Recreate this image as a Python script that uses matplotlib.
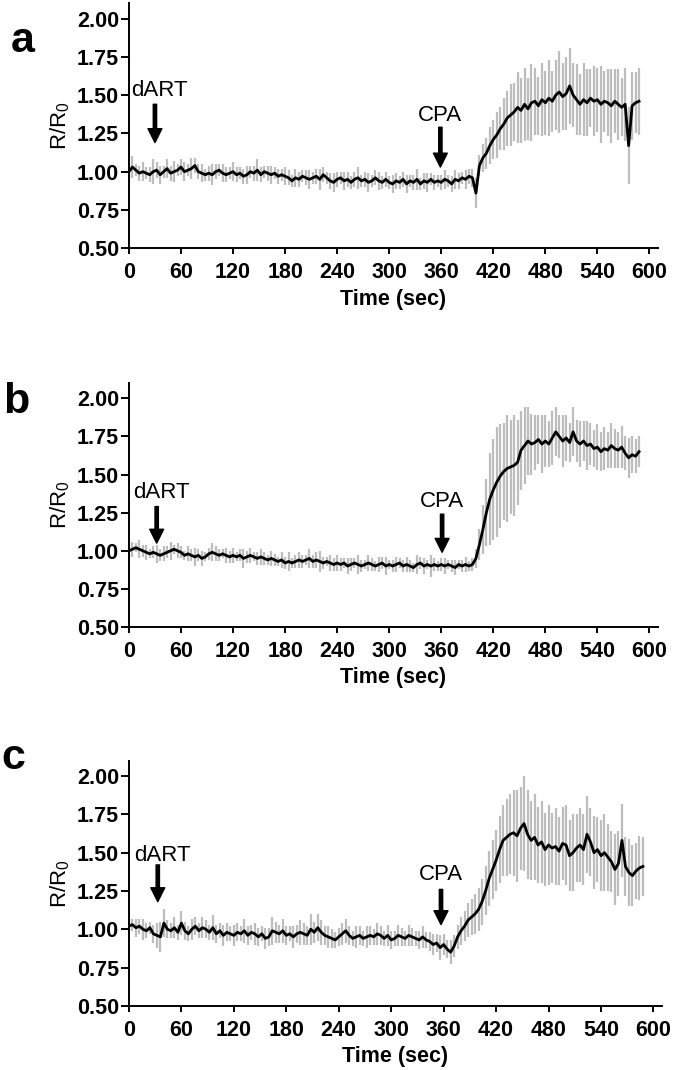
import numpy as np
import matplotlib
matplotlib.use("Agg")
from matplotlib import pyplot as plt

plt.rcParams['font.family'] = ['Liberation Sans', 'DejaVu Sans']
plt.rcParams['mathtext.default'] = 'regular'

# time points (sec), one every 4 s
t = np.arange(0, 589, 4)

# panel a: mean R/R0 and error
a_mean = [1.00, 1.03, 1.01, 0.99, 1.00, 0.99, 0.98, 1.00, 1.01, 0.98,
          1.00, 1.02, 0.99, 1.00, 1.01, 1.03, 1.00, 1.01, 1.02, 1.04,
          1.00, 0.99, 0.98, 0.99, 0.98, 1.00, 1.01, 0.99, 0.98, 0.99,
          1.00, 0.98, 0.99, 0.97, 0.98, 1.00, 0.99, 1.01, 0.98, 1.00,
          0.99, 0.98, 0.99, 0.97, 0.98, 0.97, 0.96, 0.94, 0.96, 0.95,
          0.97, 0.96, 0.95, 0.96, 0.97, 0.95, 0.98, 0.96, 0.94, 0.93,
          0.95, 0.96, 0.94, 0.95, 0.93, 0.95, 0.96, 0.94, 0.95, 0.93,
          0.94, 0.96, 0.94, 0.93, 0.95, 0.93, 0.92, 0.94, 0.93, 0.95,
          0.92, 0.94, 0.93, 0.95, 0.92, 0.94, 0.93, 0.95, 0.93, 0.94,
          0.93, 0.95, 0.94, 0.92, 0.95, 0.94, 0.96, 0.95, 0.97, 0.96,
          0.86, 1.04, 1.09, 1.12, 1.17, 1.21, 1.24, 1.28, 1.31, 1.35,
          1.37, 1.39, 1.42, 1.40, 1.44, 1.41, 1.45, 1.46, 1.43, 1.47,
          1.45, 1.48, 1.46, 1.50, 1.52, 1.49, 1.51, 1.56, 1.50, 1.47,
          1.44, 1.47, 1.45, 1.48, 1.46, 1.47, 1.44, 1.46, 1.45, 1.43,
          1.46, 1.44, 1.42, 1.44, 1.17, 1.43, 1.45, 1.46]
a_err = [0.05, 0.07, 0.04, 0.05, 0.06, 0.04, 0.05, 0.08, 0.05, 0.06,
         0.04, 0.06, 0.05, 0.07, 0.04, 0.05, 0.06, 0.04, 0.07, 0.05,
         0.05, 0.06, 0.04, 0.05, 0.07, 0.05, 0.04, 0.06, 0.05, 0.04,
         0.06, 0.05, 0.04, 0.05, 0.06, 0.04, 0.05, 0.07, 0.05, 0.04,
         0.05, 0.06, 0.04, 0.05, 0.04, 0.06, 0.05, 0.04, 0.06, 0.05,
         0.04, 0.05, 0.06, 0.04, 0.05, 0.07, 0.05, 0.04, 0.05, 0.06,
         0.05, 0.04, 0.06, 0.05, 0.04, 0.05, 0.07, 0.04, 0.05, 0.06,
         0.04, 0.05, 0.06, 0.04, 0.05, 0.04, 0.06, 0.05, 0.04, 0.05,
         0.06, 0.04, 0.05, 0.07, 0.04, 0.05, 0.06, 0.04, 0.05, 0.04,
         0.05, 0.06, 0.04, 0.05, 0.06, 0.05, 0.04, 0.06, 0.05, 0.06,
         0.10, 0.07, 0.09, 0.10, 0.12, 0.13, 0.15, 0.14, 0.17, 0.18,
         0.20, 0.19, 0.23, 0.21, 0.24, 0.20, 0.25, 0.22, 0.19, 0.24,
         0.21, 0.25, 0.20, 0.23, 0.27, 0.22, 0.24, 0.25, 0.21, 0.23,
         0.20, 0.24, 0.22, 0.19, 0.23, 0.21, 0.25, 0.20, 0.22, 0.24,
         0.21, 0.23, 0.19, 0.24, 0.25, 0.22, 0.20, 0.22]

# panel b
b_mean = [1.00, 1.01, 1.02, 1.01, 1.00, 0.99, 0.98, 0.99, 0.98, 0.97,
          0.98, 0.99, 1.00, 1.01, 1.00, 0.99, 0.97, 0.98, 0.97, 0.96,
          0.97, 0.95, 0.96, 0.98, 0.99, 0.98, 0.97, 0.98, 0.97, 0.96,
          0.97, 0.96, 0.97, 0.95, 0.96, 0.97, 0.96, 0.95, 0.96, 0.95,
          0.94, 0.95, 0.94, 0.93, 0.94, 0.92, 0.93, 0.92, 0.93, 0.94,
          0.93, 0.94, 0.95, 0.93, 0.94, 0.93, 0.92, 0.93, 0.92, 0.91,
          0.92, 0.91, 0.92, 0.90, 0.91, 0.92, 0.91, 0.90, 0.91, 0.92,
          0.91, 0.90, 0.91, 0.92, 0.90, 0.91, 0.90, 0.91, 0.92, 0.90,
          0.91, 0.90, 0.89, 0.91, 0.92, 0.90, 0.91, 0.90, 0.91, 0.90,
          0.91, 0.90, 0.91, 0.90, 0.89, 0.91, 0.90, 0.91, 0.90, 0.91,
          0.95, 1.04, 1.14, 1.25, 1.34, 1.40, 1.45, 1.49, 1.52, 1.54,
          1.55, 1.56, 1.58, 1.66, 1.69, 1.72, 1.70, 1.71, 1.73, 1.70,
          1.72, 1.70, 1.74, 1.78, 1.75, 1.72, 1.74, 1.71, 1.78, 1.72,
          1.70, 1.72, 1.69, 1.70, 1.67, 1.68, 1.65, 1.67, 1.66, 1.69,
          1.67, 1.66, 1.68, 1.64, 1.61, 1.63, 1.62, 1.65]
b_err = [0.04, 0.05, 0.03, 0.06, 0.04, 0.05, 0.03, 0.04, 0.06, 0.04,
         0.05, 0.04, 0.06, 0.03, 0.05, 0.04, 0.03, 0.05, 0.04, 0.06,
         0.04, 0.05, 0.03, 0.04, 0.06, 0.05, 0.04, 0.03, 0.05, 0.04,
         0.05, 0.03, 0.04, 0.06, 0.04, 0.05, 0.03, 0.04, 0.05, 0.04,
         0.03, 0.05, 0.04, 0.03, 0.05, 0.04, 0.06, 0.03, 0.04, 0.05,
         0.04, 0.03, 0.06, 0.04, 0.05, 0.07, 0.04, 0.03, 0.05, 0.04,
         0.05, 0.04, 0.03, 0.05, 0.04, 0.03, 0.06, 0.04, 0.03, 0.05,
         0.04, 0.03, 0.05, 0.04, 0.06, 0.03, 0.04, 0.05, 0.03, 0.04,
         0.05, 0.04, 0.03, 0.06, 0.04, 0.05, 0.03, 0.07, 0.04, 0.03,
         0.04, 0.05, 0.03, 0.04, 0.05, 0.03, 0.04, 0.05, 0.03, 0.04,
         0.06, 0.10, 0.16, 0.22, 0.30, 0.33, 0.36, 0.34, 0.32, 0.35,
         0.31, 0.33, 0.28, 0.26, 0.25, 0.22, 0.20, 0.18, 0.16, 0.19,
         0.17, 0.15, 0.18, 0.16, 0.14, 0.17, 0.15, 0.13, 0.16, 0.14,
         0.15, 0.13, 0.16, 0.14, 0.12, 0.15, 0.13, 0.14, 0.12, 0.15,
         0.13, 0.12, 0.14, 0.11, 0.13, 0.12, 0.11, 0.10]

# panel c
c_mean = [1.02, 1.03, 1.01, 1.02, 1.00, 0.99, 1.01, 0.97, 0.96, 0.95,
          1.04, 1.00, 0.99, 1.01, 0.98, 1.04, 0.99, 0.97, 1.00, 1.02,
          0.99, 1.01, 1.00, 0.98, 1.01, 0.97, 0.99, 0.96, 0.98, 0.97,
          0.96, 0.98, 0.97, 0.99, 0.96, 0.98, 0.97, 0.95, 0.97, 0.94,
          0.95, 0.99, 0.98, 0.97, 0.99, 0.96, 0.97, 0.95, 0.97, 0.98,
          0.97, 0.96, 1.00, 0.98, 1.01, 0.98, 0.96, 0.95, 0.94, 0.93,
          0.95, 0.97, 0.99, 0.96, 0.94, 0.95, 0.96, 0.94, 0.95, 0.96,
          0.95, 0.97, 0.96, 0.94, 0.96, 0.93, 0.94, 0.96, 0.95, 0.94,
          0.96, 0.95, 0.94, 0.93, 0.95, 0.93, 0.92, 0.90, 0.91, 0.88,
          0.90, 0.87, 0.85, 0.89, 0.95, 0.99, 1.02, 1.06, 1.08, 1.10,
          1.13, 1.18, 1.25, 1.33, 1.39, 1.45, 1.52, 1.58, 1.60, 1.62,
          1.63, 1.61, 1.66, 1.69, 1.62, 1.58, 1.60, 1.55, 1.57, 1.52,
          1.55, 1.53, 1.54, 1.51, 1.56, 1.55, 1.48, 1.50, 1.53, 1.55,
          1.52, 1.62, 1.57, 1.50, 1.52, 1.48, 1.50, 1.47, 1.44, 1.39,
          1.43, 1.58, 1.41, 1.37, 1.35, 1.38, 1.40, 1.41]
c_err = [0.05, 0.04, 0.06, 0.05, 0.07, 0.05, 0.04, 0.06, 0.08, 0.10,
         0.09, 0.06, 0.05, 0.07, 0.05, 0.08, 0.06, 0.05, 0.07, 0.06,
         0.05, 0.07, 0.06, 0.05, 0.08, 0.06, 0.05, 0.07, 0.06, 0.05,
         0.07, 0.06, 0.05, 0.08, 0.06, 0.05, 0.07, 0.06, 0.05, 0.07,
         0.06, 0.09, 0.07, 0.06, 0.08, 0.06, 0.05, 0.07, 0.06, 0.08,
         0.07, 0.06, 0.10, 0.07, 0.09, 0.08, 0.06, 0.07, 0.06, 0.05,
         0.06, 0.07, 0.08, 0.06, 0.05, 0.07, 0.06, 0.05, 0.07, 0.06,
         0.05, 0.07, 0.06, 0.05, 0.07, 0.06, 0.05, 0.07, 0.06, 0.05,
         0.07, 0.06, 0.05, 0.06, 0.07, 0.05, 0.06, 0.07, 0.06, 0.08,
         0.07, 0.06, 0.08, 0.07, 0.08, 0.09, 0.10, 0.11, 0.12, 0.13,
         0.14, 0.15, 0.16, 0.18, 0.19, 0.20, 0.22, 0.23, 0.25, 0.26,
         0.28, 0.30, 0.27, 0.31, 0.29, 0.26, 0.28, 0.25, 0.27, 0.24,
         0.26, 0.23, 0.25, 0.22, 0.24, 0.26, 0.23, 0.25, 0.22, 0.24,
         0.23, 0.25, 0.22, 0.24, 0.21, 0.23, 0.25, 0.22, 0.20, 0.23,
         0.21, 0.24, 0.19, 0.22, 0.20, 0.18, 0.21, 0.19]

xticks = np.arange(0, 601, 60)
yticks = [0.50, 0.75, 1.00, 1.25, 1.50, 1.75, 2.00]

# (letter, mean, err, dART x, dART text y, dART arrow y top/bottom, CPA x, CPA text y, CPA arrow top/bottom)
panels = [
    ('a', a_mean, a_err, 30, 1.53, 1.44, 1.19, 359, 1.37, 1.29, 1.03),
    ('b', b_mean, b_err, 32, 1.38, 1.29, 1.05, 361, 1.32, 1.24, 0.99),
    ('c', c_mean, c_err, 33, 1.48, 1.42, 1.18, 357, 1.36, 1.26, 1.03),
]
axes_pos = [[0.191, 0.768, 0.784, 0.229],
            [0.191, 0.414, 0.784, 0.228],
            [0.191, 0.060, 0.790, 0.229]]
letter_pos = [(0.016, 0.951), (0.004, 0.614), (0.002, 0.281)]

fig = plt.figure(figsize=(6.75, 10.7), dpi=100)
for k, p in enumerate(panels):
    letter, m, e, dx, dty, dat, dab, cx, cty, cat, cab = p
    m = np.array(m)
    e = np.array(e)
    ax = fig.add_axes(axes_pos[k])
    ax.vlines(t, m - e, m + e, color='#bdbdbd', lw=1.6, zorder=1)
    ax.plot(t, m, color='black', lw=2.0, zorder=2)
    ax.set_xlim(0, 610)
    ax.set_ylim(0.5, 2.1)
    ax.set_xticks(xticks)
    ax.set_yticks(yticks)
    ax.set_yticklabels(['%.2f' % v for v in yticks])
    for s in ['top', 'right']:
        ax.spines[s].set_visible(False)
    for s in ['left', 'bottom']:
        ax.spines[s].set_linewidth(1.4)
    ax.tick_params(axis='y', length=5.5, width=1.4, pad=1.5, labelsize=15.5)
    ax.tick_params(axis='x', length=4, width=1.4, pad=6, labelsize=15.5)
    for lab in ax.get_xticklabels() + ax.get_yticklabels():
        lab.set_fontweight('bold')
    ax.set_xlabel('Time (sec)', fontsize=15.5, fontweight='bold', labelpad=4)
    ax.set_ylabel('R/R$_0$', fontsize=16, labelpad=4)

    ap = dict(facecolor='black', edgecolor='black', width=2.4, headwidth=10,
              headlength=10, shrink=0)
    ax.annotate('', xy=(dx, dab), xytext=(dx, dat), arrowprops=ap)
    ax.text(dx + 5, dty, 'dART', fontsize=16, ha='center', va='center')
    ax.annotate('', xy=(cx, cab), xytext=(cx, cat), arrowprops=ap)
    ax.text(cx, cty, 'CPA', fontsize=16, ha='center', va='center')

    fig.text(letter_pos[k][0], letter_pos[k][1], letter, fontsize=31,
             fontweight='bold')

fig.savefig('out.png', dpi=100)
